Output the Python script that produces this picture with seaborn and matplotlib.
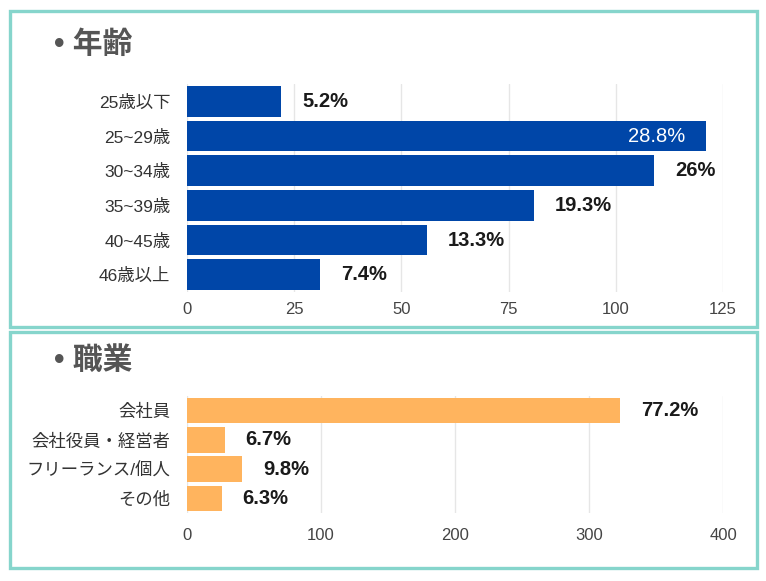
import matplotlib
matplotlib.use("Agg")
import matplotlib.pyplot as plt
import seaborn as sns
import pandas as pd
from matplotlib.patches import Rectangle

sns.set_theme(style="white")
plt.rcParams['font.family'] = ['Liberation Sans', 'Noto Sans CJK JP', 'DejaVu Sans']

# ---- data ----
age_title = "• 年齢"
age_categories = ["25歳以下", "25~29歳", "30~34歳", "35~39歳", "40~45歳", "46歳以上"]
age_counts = [22, 121, 109, 81, 56, 31]
age_pct_labels = ["5.2%", "28.8%", "26%", "19.3%", "13.3%", "7.4%"]
age_ticks = [0, 25, 50, 75, 100, 125]

job_title = "• 職業"
job_categories = ["会社員", "会社役員・経営者", "フリーランス/個人", "その他"]
job_counts = [323, 28, 41, 26]
job_pct_labels = ["77.2%", "6.7%", "9.8%", "6.3%"]
job_ticks = [0, 100, 200, 300, 400]

W, H = 766, 581
fig = plt.figure(figsize=(W / 100, H / 100), dpi=100)
fig.patch.set_facecolor("white")

BORDER = "#86D5CC"


def px_rect(x0, y0, x1, y1):
    return [x0 / W, 1 - y1 / H, (x1 - x0) / W, (y1 - y0) / H]


# panel borders
for (x0, y0, x1, y1) in [(10, 11, 757, 327), (10, 332, 757, 568)]:
    l, b, w, h = px_rect(x0, y0, x1, y1)
    fig.patches.append(Rectangle((l, b), w, h, transform=fig.transFigure,
                                 fill=False, edgecolor=BORDER, linewidth=2.4))


def panel(rect, cats, vals, labels, ticks, color, title, title_y, xpad):
    ax = fig.add_axes(px_rect(*rect))
    df = pd.DataFrame({"cat": cats, "val": vals})
    sns.barplot(data=df, y="cat", x="val", orient="h", color=color,
                saturation=1, width=0.88, ax=ax, edgecolor="none")
    ax.set_xlim(ticks[0], ticks[-1])
    ax.set_xticks(ticks)
    ax.set_xlabel("")
    ax.set_ylabel("")
    for s in ax.spines.values():
        s.set_visible(False)
    ax.grid(axis="x", color="#e6e6e6", linewidth=1)
    ax.grid(axis="y", visible=False)
    ax.set_axisbelow(True)
    ax.tick_params(axis="x", length=0, pad=xpad, labelsize=12, labelcolor="#444444")
    ax.tick_params(axis="y", length=0, pad=12, labelsize=12.5, labelcolor="#333333")
    xmax = ticks[-1]
    for i, (v, lab) in enumerate(zip(vals, labels)):
        if v / xmax > 0.92:
            ax.annotate(lab, (v, i), xytext=(-15, 0), textcoords="offset points",
                        ha="right", va="center", color="white",
                        fontsize=14.5, fontweight="medium")
        else:
            ax.annotate(lab, (v, i), xytext=(15, 0), textcoords="offset points",
                        ha="left", va="center", color="#1a1a1a",
                        fontsize=14.5, fontweight="bold")
    fig.text(54 / W, 1 - title_y / H, title, fontsize=21.5, fontweight="bold",
             color="#555555", ha="left", va="center")
    return ax


panel((187, 84, 723, 292), age_categories, age_counts, age_pct_labels,
      age_ticks, "#0046A8", age_title, 45, 7)
panel((187, 396, 723, 513), job_categories, job_counts, job_pct_labels,
      job_ticks, "#FFB45E", job_title, 361, 11)

fig.savefig("out.png", dpi=100, facecolor="white")
